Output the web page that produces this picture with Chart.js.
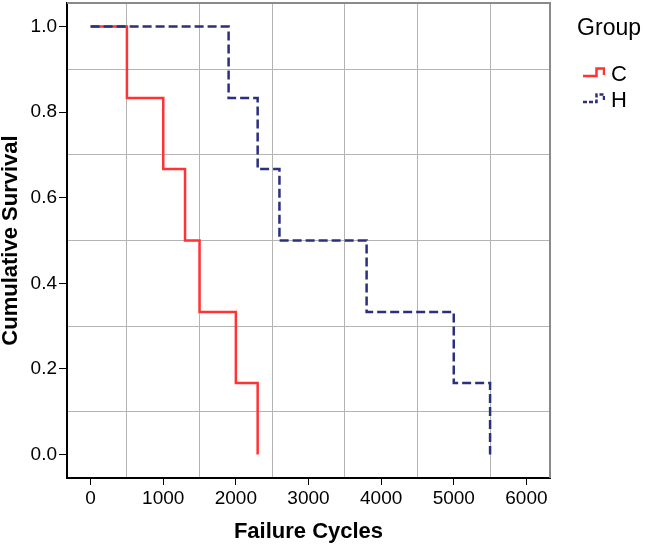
<!DOCTYPE html>
<html>
<head>
<meta charset="utf-8">
<script src="https://cdn.jsdelivr.net/npm/chart.js@4.4.1/dist/chart.umd.min.js"></script>
<style>
  html, body { margin: 0; padding: 0; background: #ffffff; }
  #wrap { width: 646px; height: 547px; }
</style>
</head>
<body>
<div id="wrap"><canvas id="c" width="646" height="547"></canvas></div>
<script>
// ---- data ----
const groups = ['C', 'H'];
const cTimes = [0, 500, 1000, 1300, 1500, 2000, 2300];
const cSurv  = [1.0, 0.833, 0.667, 0.5, 0.333, 0.167, 0.0];
const hTimes = [0, 1900, 2300, 2600, 3800, 5000, 5500];
const hSurv  = [1.0, 0.833, 0.667, 0.5, 0.333, 0.167, 0.0];
const xTicks = [0, 500, 1000, 1500, 2000, 2500, 3000, 3500, 4000, 4500, 5000, 5500, 6000];
const yTicks = [0.0, 0.1, 0.2, 0.3, 0.4, 0.5, 0.6, 0.7, 0.8, 0.9, 1.0];
const xTitle = 'Failure Cycles';
const yTitle = 'Cumulative Survival';
const legendTitle = 'Group';

// ---- styles ----
const FONT = "'Liberation Sans', Arial, sans-serif";
const RED = '#ff3333';
const BLUE = '#2b2f7e';
const GRID = '#b4b4b4';

function stepIcon(color, dash, width) {
  const cv = document.createElement('canvas');
  cv.width = 56; cv.height = 20;
  const g = cv.getContext('2d');
  g.strokeStyle = color;
  g.lineWidth = width;
  g.setLineDash(dash);
  g.beginPath();
  g.moveTo(34, 11);
  g.lineTo(47.5, 11);
  g.lineTo(47.5, 3.5);
  g.lineTo(55, 3.5);
  g.lineTo(55, 10);
  g.stroke();
  return cv;
}

const toXY = (ts, ss) => ts.map((t, i) => ({ x: t, y: ss[i] }));

const datasets = [
  {
    label: groups[0],
    data: toXY(cTimes, cSurv),
    stepped: 'before',
    borderColor: RED,
    borderWidth: 2.5,
    pointRadius: 0,
    fill: false,
    order: 2,
    _icon: stepIcon(RED, [], 2.5)
  },
  {
    label: groups[1],
    data: toXY(hTimes, hSurv),
    stepped: 'before',
    borderColor: BLUE,
    borderWidth: 2.5,
    borderDash: [9, 4],
    pointRadius: 0,
    fill: false,
    order: 1,
    _icon: stepIcon(BLUE, [4, 2], 2.5)
  }
];

const boxPlugin = {
  id: 'boxPlugin',
  beforeLayout(chart) {
    const lg = chart.legend;
    if (lg && !lg.__patched) {
      const orig = lg.fit;
      lg.fit = function () { orig.call(this); this.width = 91; };
      lg.__patched = true;
    }
  },
  afterDatasetsDraw(chart) {
    const a = chart.chartArea, ctx = chart.ctx;
    ctx.save();
    ctx.strokeStyle = '#8a8a8a';
    ctx.lineWidth = 2;
    ctx.beginPath();
    ctx.moveTo(a.left, a.top);
    ctx.lineTo(a.right, a.top);
    ctx.lineTo(a.right, a.bottom);
    ctx.stroke();
    ctx.restore();
  }
};

const isMajorX = v => Math.round(v) % 1000 === 0;
const isMajorY = v => Math.round(v * 10) % 2 === 0;

new Chart(document.getElementById('c'), {
  type: 'line',
  data: { datasets },
  plugins: [boxPlugin],
  options: {
    responsive: false,
    animation: false,
    layout: { padding: { top: 3, right: 5, left: 0, bottom: 0 } },
    plugins: {
      tooltip: { enabled: false },
      legend: {
        display: true,
        position: 'right',
        align: 'start',
        title: {
          display: true,
          text: legendTitle,
          position: 'end',
          color: '#000',
          font: { family: FONT, size: 23, lineHeight: 1 },
          padding: { top: 14, bottom: 20 }
        },
        labels: {
          usePointStyle: true,
          pointStyleWidth: 46,
          padding: 4,
          color: '#000',
          font: { family: FONT, size: 22, lineHeight: 1 },
          generateLabels(chart) {
            return chart.data.datasets.map((ds, i) => ({
              text: ds.label,
              fillStyle: 'transparent',
              strokeStyle: ds.borderColor,
              lineWidth: 0,
              pointStyle: ds._icon,
              hidden: false,
              datasetIndex: i,
              fontColor: '#000'
            }));
          }
        }
      }
    },
    scales: {
      x: {
        type: 'linear',
        min: -325,
        max: 6325,
        afterBuildTicks(scale) { scale.ticks = xTicks.map(v => ({ value: v })); },
        afterFit(scale) { scale.height = 69; scale.paddingLeft = 0; scale.paddingRight = 0; },
        ticks: {
          autoSkip: false,
          maxRotation: 0,
          padding: 2,
          color: '#000',
          font: { family: FONT, size: 19 },
          callback: v => (isMajorX(v) ? String(v) : '')
        },
        grid: {
          drawTicks: true,
          tickLength: 7,
          lineWidth: 1,
          tickWidth: 1,
          color: c => (c.tick && !isMajorX(c.tick.value) ? GRID : 'rgba(0,0,0,0)'),
          tickColor: c => (c.tick && isMajorX(c.tick.value) ? '#000' : 'rgba(0,0,0,0)')
        },
        border: { display: true, color: '#000', width: 2 },
        title: {
          display: true,
          text: xTitle,
          color: '#000',
          font: { family: FONT, size: 22, weight: 'bold', lineHeight: 1 },
          padding: { top: 0, bottom: 4 }
        }
      },
      y: {
        type: 'linear',
        min: -0.055,
        max: 1.055,
        afterBuildTicks(scale) { scale.ticks = yTicks.map(v => ({ value: v })); },
        afterFit(scale) { scale.width = 67; scale.paddingTop = 0; scale.paddingBottom = 0; },
        ticks: {
          autoSkip: false,
          padding: 2,
          color: '#000',
          font: { family: FONT, size: 19 },
          callback: v => (isMajorY(v) ? v.toFixed(1) : '')
        },
        grid: {
          drawTicks: true,
          tickLength: 8,
          lineWidth: 1,
          tickWidth: 1,
          color: c => (c.tick && !isMajorY(c.tick.value) ? GRID : 'rgba(0,0,0,0)'),
          tickColor: c => (c.tick && isMajorY(c.tick.value) ? '#000' : 'rgba(0,0,0,0)')
        },
        border: { display: true, color: '#000', width: 2 },
        title: {
          display: true,
          text: yTitle,
          color: '#000',
          font: { family: FONT, size: 22, weight: 'bold', lineHeight: 1 },
          padding: 0
        }
      }
    }
  }
});
</script>
</body>
</html>
